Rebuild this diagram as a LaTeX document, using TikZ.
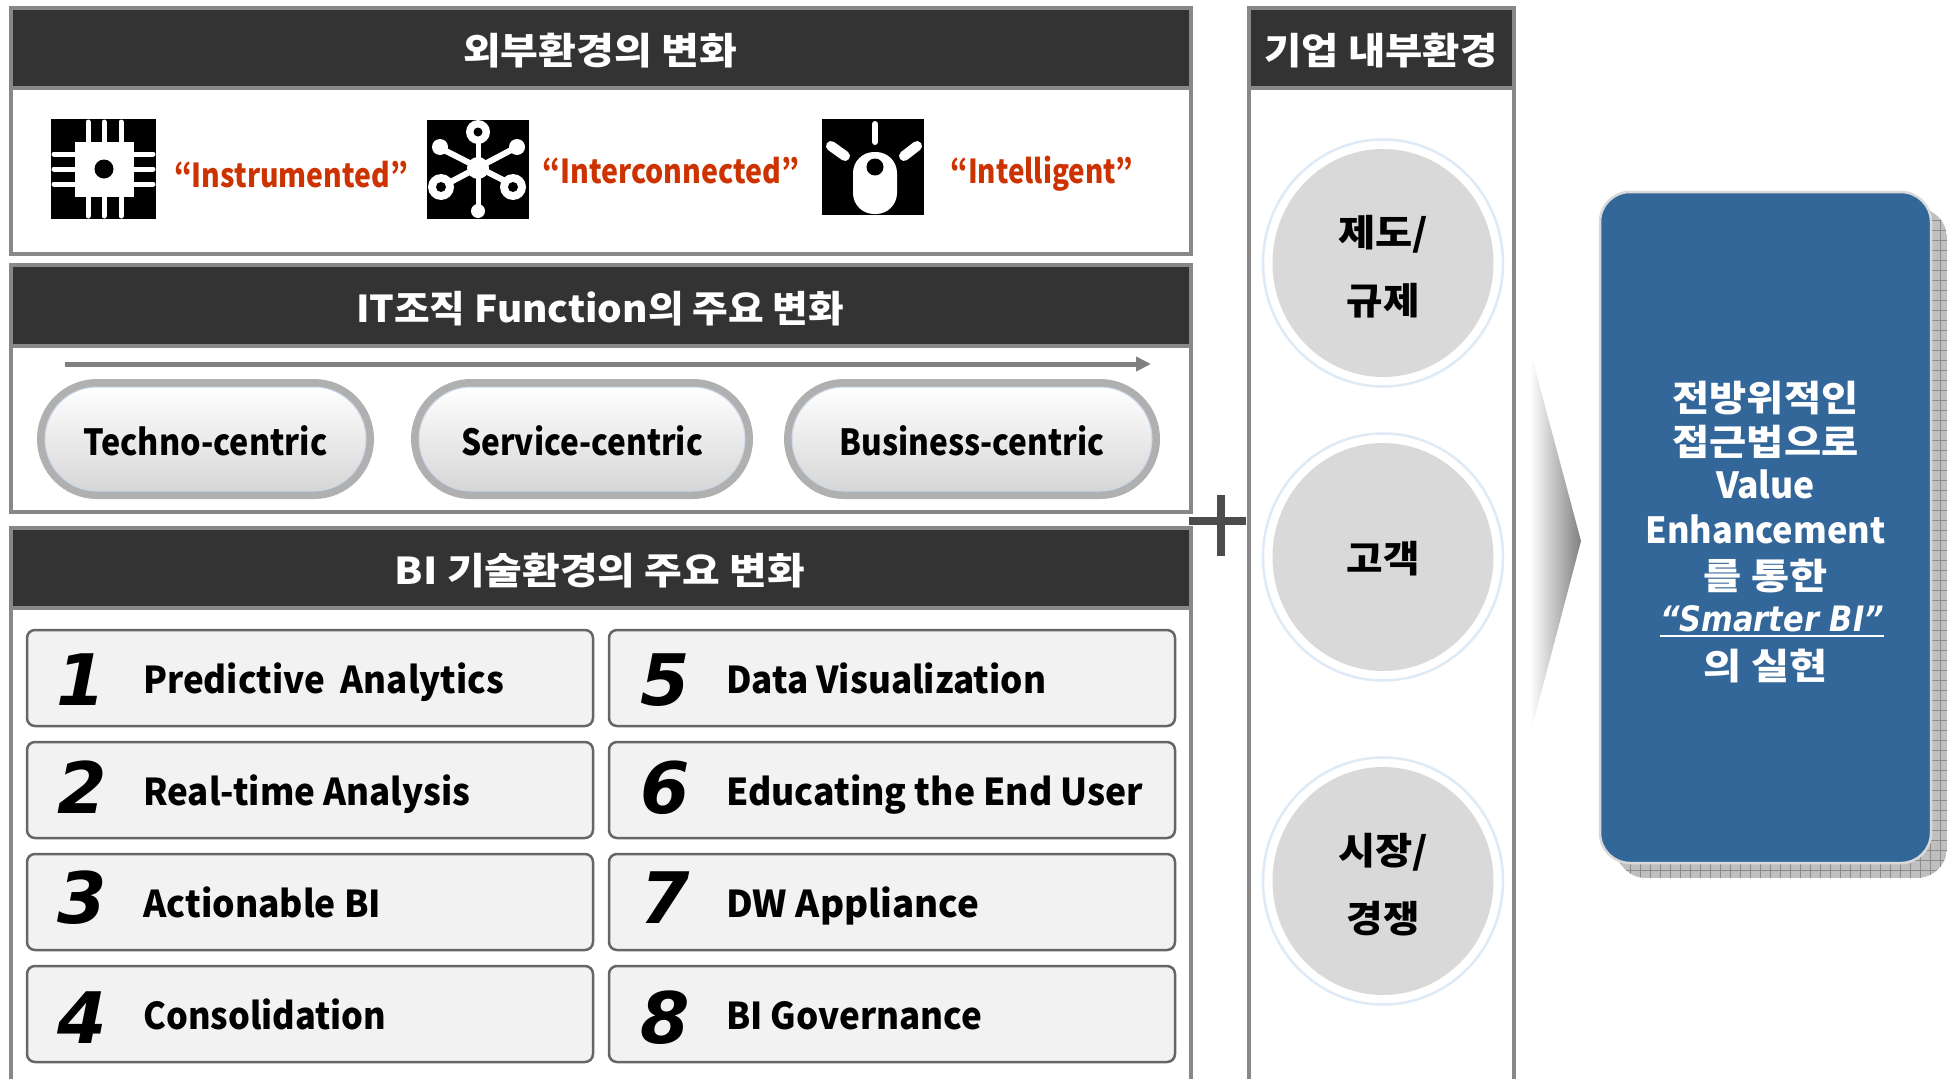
\documentclass[tikz,border=0pt]{standalone}
\usepackage{graphicx}
\usepackage{fontspec}
\setmainfont{Noto Sans CJK KR}
\newfontfamily\numf{DejaVu Sans}
\newfontfamily\latf{DejaVu Sans}
\usetikzlibrary{arrows.meta,shapes.geometric}
\definecolor{bdr}{HTML}{888888}
\definecolor{hdr}{HTML}{333333}
\definecolor{redtx}{HTML}{CC3300}
\definecolor{bluebx}{HTML}{336699}
\definecolor{circ}{HTML}{D9D9D9}
\definecolor{ring}{HTML}{DEEAF6}
\definecolor{pillb}{HTML}{B0B0B0}
\definecolor{pilli}{HTML}{C9D7EA}
\newbox\wfitbox
\newcommand{\wfit}[2]{\setbox\wfitbox=\hbox{#2}\pgfmathsetmacro\wfitr{#1/\the\wd\wfitbox}\scalebox{\wfitr}[1]{\box\wfitbox}}
\newcommand{\fs}[1]{\fontsize{#1}{#1}\selectfont\bfseries}
\tikzset{
  x=1pt,y=-1pt,
  panel/.style={draw=bdr,line width=4pt,fill=white},
  hdrbar/.style={draw=bdr,line width=4pt,fill=hdr},
  hdrtext/.style={text=white,anchor=mid,inner sep=0,font=\fs{37},yshift=-12pt},
  redtext/.style={text=redtx,anchor=mid,inner sep=0,font=\fs{33},yshift=-10pt},
  pillout/.style={rectangle,draw=pillb,line width=8pt,minimum width=#1,minimum height=112pt,rounded corners=56pt,inner sep=0},
  pillin/.style={rectangle,draw=pilli,line width=1pt,top color=white,bottom color=black!16,minimum width=#1,minimum height=104pt,rounded corners=52pt,inner sep=0,font=\fs{36},anchor=center},
  numbox/.style={draw=black!60,line width=2.5pt,fill=black!5,rounded corners=8pt},
  numtext/.style={anchor=base,inner sep=0,font={\numf\fontsize{71}{71}\selectfont\bfseries\itshape}},
  itemtext/.style={anchor=mid west,inner sep=0,font=\fs{37},yshift=-12pt},
  ringc/.style={ellipse,draw=ring,line width=2.5pt,minimum width=240pt,minimum height=247pt,inner sep=0},
  corec/.style={ellipse,fill=circ,minimum width=221pt,minimum height=228pt,inner sep=0},
  circtext/.style={anchor=mid,inner sep=0,font=\fs{37},yshift=-12pt},
  bluetext/.style={text=white,anchor=mid,inner sep=0,font=\fs{36},yshift=-13pt},
  wht/.style={white,line cap=round},
}
\begin{document}
\begin{tikzpicture}
\clip (0,0) rectangle (1952,1079);
\fill[white] (0,0) rectangle (1952,1079);
% left panels
\draw[panel] (11,8) rectangle (1191,254);
\draw[hdrbar] (11,8) rectangle (1191,88);
\node[hdrtext] (h1) at (600,50) {\wfit{274}{외부환경의 변화}};
\draw[panel] (11,265) rectangle (1191,512);
\draw[hdrbar] (11,265) rectangle (1191,346);
\node[hdrtext] (h2) at (600,308) {\wfit{488}{IT조직 Function의 주요 변화}};
\draw[panel] (11,528) rectangle (1191,1100);
\draw[hdrbar] (11,528) rectangle (1191,608);
\node[hdrtext] (h3) at (600,570) {\wfit{410}{BI 기술환경의 주요 변화}};
% right panel
\draw[panel] (1249,8) rectangle (1514,1100);
\draw[hdrbar] (1249,8) rectangle (1514,88);
\node[hdrtext] (h4) at (1381,50) {\wfit{233}{기업 내부환경}};
% icon 1: chip
\fill (51,119) rectangle (156,219);
\foreach \p in {88,104,121}{
  \draw[wht,line width=5pt] (\p,122) -- (\p,216);
}
\foreach \q in {154,169,184}{
  \draw[wht,line width=5pt] (54,\q) -- (153,\q);
}
\fill[white] (75,142) rectangle (134,197);
\fill (104,169) circle (9.5);
% icon 2: network
\fill (427,120) rectangle (529,219);
\draw[wht,line width=5pt] (478,132) -- (478,211);
\draw[wht,line width=6pt] (440,148) -- (517,187);
\draw[wht,line width=6pt] (517,147) -- (441,187);
\fill[white] (478,168) circle (11);
\fill[white] (478,132) circle (12);
\fill[black] (478,132) circle (4.5);
\fill[white] (478,211) circle (7);
\fill[white] (440,147) circle (8);
\fill[white] (517,147) circle (8);
\fill[white] (441,187) circle (13);
\fill[black] (441,187) circle (5);
\fill[white] (513,187) circle (13);
\fill[black] (513,187) circle (5);
% icon 3: bulb
\fill (822,119) rectangle (924,215);
\draw[wht,line width=6pt] (875,124) -- (875,142);
\draw[wht,line width=10pt] (831,146) -- (845,156);
\draw[wht,line width=10pt] (917,146) -- (904,156);
\fill[white,rounded corners=21pt] (853,152) rectangle (897,214);
\fill (875,167) circle (8.5);
% red labels
\node[redtext] (r1) at (291,175) {\wfit{234}{“Instrumented”}};
\node[redtext] (r2) at (671,171) {\wfit{257}{“Interconnected”}};
\node[redtext] (r3) at (1042,171) {\wfit{183}{“Intelligent”}};
% timeline arrow
\coordinate (ta) at (65,364);
\coordinate (tb) at (1151,364);
\draw[line width=5pt,draw=black!50,-{Triangle[length=15pt,width=14pt]}] (ta) -- (tb);
% pills
\node[pillout=329pt] at (205.5,439) {};
\node[pillin=321pt] (p1) at (205.5,439) {\raisebox{-1.5pt}[\height][\depth]{\wfit{244}{Techno-centric}}};
\node[pillout=334pt] at (582,439) {};
\node[pillin=326pt] (p2) at (582,439) {\raisebox{-1.5pt}[\height][\depth]{\wfit{242}{Service-centric}}};
\node[pillout=368pt] at (972,439) {};
\node[pillin=360pt] (p3) at (972,439) {\raisebox{-1.5pt}[\height][\depth]{\wfit{265}{Business-centric}}};
% number boxes
\foreach \cy in {678,790,902,1014}{
  \draw[numbox] (27,\cy-48) rectangle (593,\cy+48);
  \draw[numbox] (609,\cy-48) rectangle (1175,\cy+48);
}
\node[numtext] (n1) at (81,705) {1};
\node[numtext] (n2) at (82,813) {2};
\node[numtext] (n3) at (82,923) {3};
\node[numtext] (n4) at (82,1043) {4};
\node[numtext] (n5) at (665,705) {5};
\node[numtext] (n6) at (665,813) {6};
\node[numtext] (n7) at (665,923) {7};
\node[numtext] (n8) at (665,1043) {8};
\node[itemtext] (t1) at (143,679) {\wfit{361}{Predictive\ \ Analytics}};
\node[itemtext] (t2) at (143,791) {\wfit{327}{Real-time Analysis}};
\node[itemtext] (t3) at (143,903) {\wfit{238}{Actionable BI}};
\node[itemtext] (t4) at (143,1015) {\wfit{243}{Consolidation}};
\node[itemtext] (t5) at (726,679) {\wfit{320}{Data Visualization}};
\node[itemtext] (t6) at (726,791) {\wfit{417}{Educating the End User}};
\node[itemtext] (t7) at (726,903) {\wfit{253}{DW Appliance}};
\node[itemtext] (t8) at (726,1015) {\wfit{256}{BI Governance}};
% plus
\fill[black!70] (1189,517) rectangle (1246,525);
\fill[black!70] (1217,495) rectangle (1225,556);
% circles
\foreach \cy in {263,557,881}{
  \node[ringc] at (1383,\cy) {};
  \node[corec] at (1383,\cy) {};
}
\node[circtext] (c1a) at (1383,232) {\wfit{90}{제도/}};
\node[circtext] (c1b) at (1383,300) {\wfit{73}{규제}};
\node[circtext] (c2) at (1383,558) {\wfit{73}{고객}};
\node[circtext] (c3a) at (1383,850) {\wfit{90}{시장/}};
\node[circtext] (c3b) at (1383,918) {\wfit{73}{경쟁}};
% chevron
\shade[left color=white,right color=black!50,draw=none] (1530,350) -- (1581,541) -- (1530,735) -- cycle;
% result box
\begin{scope}
\path[clip,rounded corners=30pt] (1616,208) rectangle (1947,878);
\fill[black!25] (1616,208) rectangle (1947,878);
\draw[black!45,line width=.8pt] (1600,190) grid[step=10pt] (1950,880);
\end{scope}
\draw[draw=black!15,line width=2.5pt,fill=bluebx,rounded corners=30pt] (1600,192) rectangle (1931,863);
\node[bluetext] (b1) at (1765.5,396) {\wfit{186}{전방위적인}};
\node[bluetext] (b2) at (1765.5,440) {\wfit{186}{접근법으로}};
\node[bluetext] (b3) at (1765.5,483) {\wfit{99}{Value}};
\node[bluetext] (b4) at (1765.5,528) {\wfit{240}{Enhancement}};
\node[bluetext] (b5) at (1765.5,574) {\wfit{124}{를 통한}};
\node[bluetext] (b6) at (1772,616) {\wfit{224}{\latf\fontsize{35}{35}\selectfont\bfseries\itshape “Smarter BI”}};
\coordinate (ua) at (1660,636);
\coordinate (ub) at (1884,636);
\draw[white,line width=2pt] (ua) -- (ub);
\node[bluetext] (b7) at (1765.5,664) {\wfit{124}{의 실현}};
\end{tikzpicture}
\end{document}
